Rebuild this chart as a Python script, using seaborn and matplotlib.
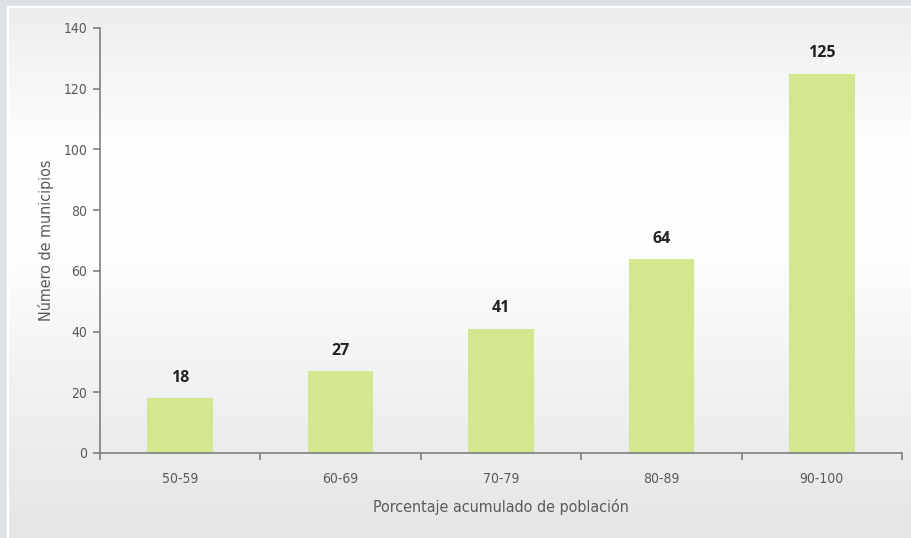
import numpy as np
import pandas as pd
import matplotlib
matplotlib.use("Agg")
import matplotlib.pyplot as plt
import seaborn as sns

# data
categories = ["50-59", "60-69", "70-79", "80-89", "90-100"]
municipios = [18, 27, 41, 64, 125]
y_ticks = [0, 20, 40, 60, 80, 100, 120, 140]

df = pd.DataFrame({"rango": categories, "n": municipios})

sns.set_style("white")
plt.rcParams["font.family"] = ["DejaVu Sans"]
plt.rcParams["font.stretch"] = "condensed"

fig = plt.figure(figsize=(9.11, 5.38), dpi=100)

# background: grey frame + vertical gradient panel
bg = fig.add_axes([0, 0, 1, 1], zorder=-10)
bg.set_axis_off()
bg.set_xlim(0, 911)
bg.set_ylim(538, 0)
bg.add_patch(plt.Rectangle((0, 0), 911, 538, color="#dfe2e5"))
bg.add_patch(plt.Rectangle((7, 6), 904, 532, color="white"))
stops_y = np.array([8, 40, 150, 250, 380, 538])
stops_c = np.array([0.93, 0.95, 1.0, 1.0, 0.95, 0.9])
yy = np.linspace(8, 538, 300)
vals = np.interp(yy, stops_y, stops_c)
grad = np.stack([vals * 0.995, vals * 0.998, vals], axis=-1)[:, None, :].repeat(2, axis=1)
grad = np.clip(grad, 0, 1)
bg.imshow(grad, extent=(9, 911, 538, 8), aspect="auto", zorder=1)

ax = fig.add_axes([100 / 911, 85 / 538, 802 / 911, 425 / 538])
ax.patch.set_alpha(0)

sns.barplot(data=df, x="rango", y="n", color="#d3e78f", width=0.41,
            saturation=1, linewidth=0, ax=ax)

for i, v in enumerate(municipios):
    ax.text(i, v + 4, str(v), ha="center", va="bottom", fontsize=11.5,
            fontweight="bold", color="#222222", family=["Open Sans", "DejaVu Sans"],
            stretch="normal")

ax.set_xlim(-0.5, len(categories) - 0.5)
ax.set_ylim(0, 140)
ax.set_yticks(y_ticks)
ax.set_xticks(range(len(categories)))
ax.set_xticklabels(categories)
ax.set_xticks(np.arange(-0.5, len(categories)), minor=True)
ax.tick_params(axis="x", which="major", length=0, pad=14, labelsize=10,
               labelcolor="#5a5a5a")
ax.tick_params(axis="x", which="minor", length=5, width=1.2, color="#808080",
               direction="out", bottom=True)
ax.tick_params(axis="y", length=5, width=1.2, color="#808080", direction="out",
               left=True, labelsize=10, labelcolor="#5a5a5a", pad=4)

for s in ["top", "right"]:
    ax.spines[s].set_visible(False)
for s in ["left", "bottom"]:
    ax.spines[s].set_color("#808080")
    ax.spines[s].set_linewidth(1.2)

ax.set_xlabel("Porcentaje acumulado de población", fontsize=11.5,
              color="#5a5a5a", labelpad=9)
ax.set_ylabel("Número de municipios", fontsize=11.5, color="#5a5a5a",
              labelpad=7)

fig.savefig("out.png", dpi=100)
